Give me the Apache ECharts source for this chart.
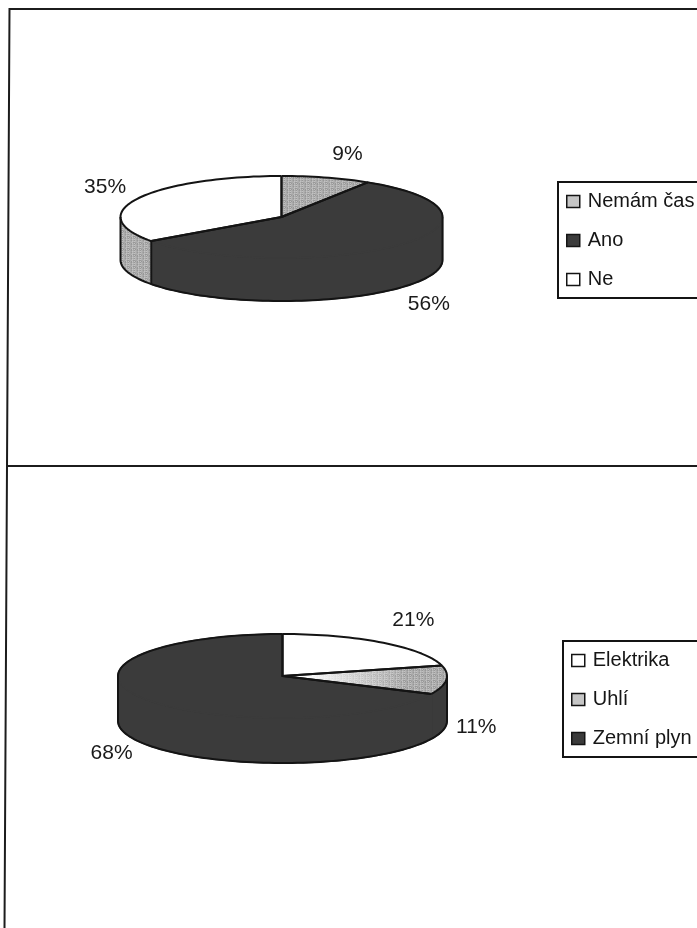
<!DOCTYPE html>
<html><head><meta charset="utf-8">
<style>html,body{margin:0;padding:0;background:#fff}#c{width:697px;height:928px;filter:blur(.4px)}</style>
<script src="https://cdn.jsdelivr.net/npm/echarts@6/dist/echarts.min.js"></script>
</head><body><div id="c"></div>
<script>
// Data
const categoriesA = ['Nemám čas', 'Ano', 'Ne'];
const valuesA = [9, 56, 35];
const categoriesB = ['Elektrika', 'Uhlí', 'Zemní plyn'];
const valuesB = [21, 11, 68];

// Styles
const DARK = '#3b3b3b', LINE = '#141414', WHITE = '#ffffff';
function grain() {
  const cv = document.createElement('canvas'); cv.width = cv.height = 6;
  const g = cv.getContext('2d');
  const shades = ['#b4b4b4','#8e8e8e','#a6a6a6','#c2c2c2','#989898','#adadad'];
  for (let y = 0; y < 6; y++) for (let x = 0; x < 6; x++) {
    g.fillStyle = shades[(x * 2 + y * 3 + (x * y) % 4) % 6];
    g.fillRect(x, y, 1, 1);
  }
  return { image: cv, repeat: 'repeat' };
}
const GRAY = grain();

const pieA = { cx: 281.5, cy: 217, rx: 161, ry: 41, depth: 43,
  values: valuesA, names: categoriesA,
  top: [GRAY, DARK, WHITE], side: [GRAY, DARK, GRAY], fade: [false, false, false],
  labelOffset: [[21, -23], [30, 59], [-33, -11]] };
const pieB = { cx: 282.5, cy: 676, rx: 164.5, ry: 42, depth: 45,
  values: valuesB, names: categoriesB,
  top: [WHITE, GRAY, DARK], side: [DARK, DARK, DARK], fade: [false, true, false],
  labelOffset: [[30, -23], [30, 47], [-32, 55]] };

function arc(p, a0, a1, dy) {
  const n = Math.max(2, Math.ceil(Math.abs(a1 - a0) / 2)), pts = [];
  for (let i = 0; i <= n; i++) {
    const a = (a0 + (a1 - a0) * i / n) * Math.PI / 180;
    pts.push([p.cx + p.rx * Math.sin(a), p.cy - p.ry * Math.cos(a) + dy]);
  }
  return pts;
}
function fillStyle(color) {
  return color === DARK ? { fill: DARK, stroke: DARK, lineWidth: 1.5 } : { fill: color };
}
function seriesFor(p, i, total) {
  const before = p.values.slice(0, i).reduce((s, v) => s + v, 0);
  return {
    type: 'custom', name: p.names[i], coordinateSystem: 'none', silent: true,
    data: [[p.values[i], before]],
    renderItem: function (params, api) {
      const a0 = api.value(1) / total * 360;
      const a1 = a0 + api.value(0) / total * 360;
      const kids = [];
      const lineStyle = { stroke: LINE, lineWidth: 2, fill: null, lineJoin: 'round' };
      const s0 = Math.max(a0, 90), s1 = Math.min(a1, 270);
      if (s1 > s0) {
        const rim = arc(p, s0, s1, 0), low = arc(p, s0, s1, p.depth);
        kids.push({ type: 'polygon', shape: { points: rim.concat(low.slice().reverse()) },
          style: fillStyle(p.side[i]), z2: 1 });
        kids.push({ type: 'polyline', shape: { points: low }, style: lineStyle, z2: 10 });
        if (p.side[i] !== p.top[i]) kids.push({ type: 'polyline', shape: { points: rim }, style: lineStyle, z2: 10 });
        if (s1 === 270 || p.side[i] !== DARK) kids.push({ type: 'polyline', shape: { points: [rim[rim.length - 1], low[low.length - 1]] }, style: lineStyle, z2: 10 });
        if (s0 === 90 || p.side[i] !== DARK) kids.push({ type: 'polyline', shape: { points: [rim[0], low[0]] }, style: lineStyle, z2: 10 });
      }
      const edge = arc(p, a0, a1, 0), c = [p.cx, p.cy];
      kids.push({ type: 'polygon', shape: { points: [c].concat(edge) }, style: fillStyle(p.top[i]), z2: 2 });
      if (p.fade[i]) {
        kids.push({ type: 'polygon', shape: { points: [c].concat(edge) }, z2: 3, style: { fill: {
          type: 'linear', global: true, x: p.cx + 20, y: 0, x2: p.cx + p.rx * 0.75, y2: 0,
          colorStops: [{ offset: 0, color: '#ffffff' }, { offset: 1, color: 'rgba(255,255,255,0)' }] } } });
      }
      kids.push({ type: 'polyline', shape: { points: [edge[0], c, edge[edge.length - 1]] }, style: lineStyle, z2: 10 });
      // back half of the rim always carries the outline
      const back = [];
      if (a0 < 90) back.push(arc(p, a0, Math.min(a1, 90), 0));
      if (a1 > 270) back.push(arc(p, Math.max(a0, 270), a1, 0));
      back.forEach(b => kids.push({ type: 'polyline', shape: { points: b }, style: lineStyle, z2: 10 }));
      const mid = (a0 + a1) / 2 * Math.PI / 180;
      const off = p.labelOffset[i];
      kids.push({ type: 'text', z2: 20, style: {
        text: Math.round(api.value(0)) + '%', x: p.cx + p.rx * Math.sin(mid) + off[0],
        y: p.cy - p.ry * Math.cos(mid) + off[1], align: 'center', verticalAlign: 'middle',
        font: '21px "Liberation Sans", Arial, sans-serif', fill: '#1a1a1a' } });
      return { type: 'group', children: kids };
    }
  };
}
function legendFor(p, left, top, itemStyles) {
  return {
    left: left, top: top, orient: 'vertical', selectedMode: false, icon: 'rect',
    padding: [8, 200, 7, 8], itemGap: 16, itemWidth: 13, itemHeight: 12,
    borderColor: LINE, borderWidth: 2, backgroundColor: '#fff',
    textStyle: { fontFamily: '"Liberation Sans", Arial, sans-serif', fontSize: 20, color: '#161616', padding: [0, 0, 0, 3], lineHeight: 23 },
    data: p.names.map((n, i) => ({ name: n, itemStyle: { color: itemStyles[i], borderColor: LINE, borderWidth: 1.5 } }))
  };
}
const chart = echarts.init(document.getElementById('c'), null, { renderer: 'canvas' });
const sumA = valuesA.reduce((s, v) => s + v, 0), sumB = valuesB.reduce((s, v) => s + v, 0);
const frame = { stroke: '#1c1c1c', lineWidth: 2 };
chart.setOption({
  animation: false, backgroundColor: '#ffffff',
  legend: [legendFor(pieA, 558, 182, ['#c6c6c6', DARK, WHITE]), legendFor(pieB, 563, 641, [WHITE, '#c6c6c6', DARK])],
  graphic: [
    { type: 'polyline', shape: { points: [[697, 9], [9.5, 9], [7, 466], [4.5, 928]] }, style: Object.assign({ fill: null }, frame), silent: true },
    { type: 'line', shape: { x1: 7, y1: 466, x2: 697, y2: 466 }, style: frame, silent: true }
  ],
  series: [0, 1, 2].map(i => seriesFor(pieA, i, sumA)).concat([0, 1, 2].map(i => seriesFor(pieB, i, sumB)))
});
</script></body></html>
